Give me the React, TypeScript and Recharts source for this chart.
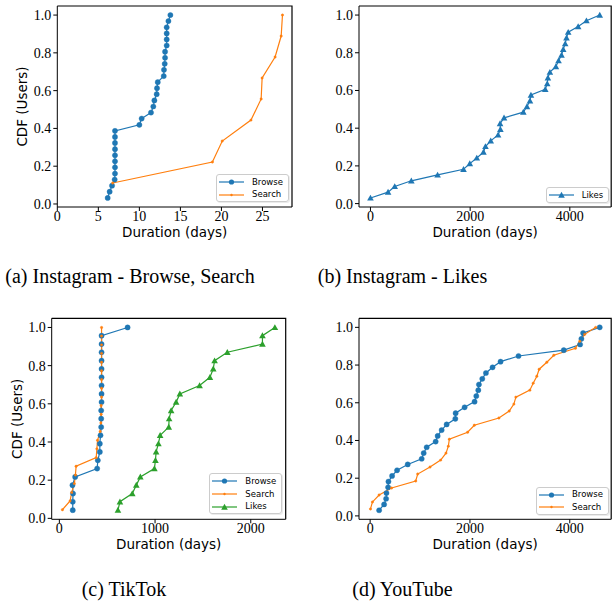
import { LineChart, Line, XAxis, YAxis } from "recharts"

const BLUE = "#1f77b4"
const ORANGE = "#ff7f0e"
const GREEN = "#2ca02c"

// (a) Instagram - Browse, Search  (days)
const igBrowseDays = [6.14, 6.38, 6.67, 6.99, 7.03, 7.03, 7.03, 7.03, 7.03, 7.03, 7.03, 7.03, 10.0, 10.28, 11.42, 11.7, 11.83, 12.11, 12.15, 12.24, 12.97, 13.0, 13.09, 13.13, 13.13, 13.33, 13.33, 13.33, 13.33, 13.54, 13.78]
const igBrowseCdf = [0.032, 0.065, 0.097, 0.129, 0.161, 0.194, 0.226, 0.258, 0.29, 0.323, 0.355, 0.387, 0.419, 0.452, 0.484, 0.516, 0.548, 0.581, 0.613, 0.645, 0.677, 0.71, 0.742, 0.774, 0.806, 0.839, 0.871, 0.903, 0.935, 0.968, 1.0]
const igSearchDays = [6.75, 18.9, 20.1, 23.6, 24.84, 24.96, 26.54, 27.28, 27.44]
const igSearchCdf = [0.111, 0.222, 0.333, 0.444, 0.556, 0.667, 0.778, 0.889, 1.0]

// (b) Instagram - Likes
const igLikesDays = [0, 353, 487, 820, 1347, 1867, 1993, 2133, 2267, 2307, 2413, 2560, 2607, 2600, 2680, 3067, 3140, 3200, 3220, 3507, 3547, 3560, 3600, 3720, 3773, 3833, 3867, 3907, 3933, 3967, 4167, 4333, 4600]
const igLikesCdf = [0.03, 0.061, 0.091, 0.121, 0.152, 0.182, 0.212, 0.242, 0.273, 0.303, 0.333, 0.364, 0.394, 0.424, 0.455, 0.485, 0.515, 0.545, 0.576, 0.606, 0.636, 0.667, 0.697, 0.727, 0.758, 0.788, 0.818, 0.848, 0.879, 0.909, 0.939, 0.97, 1.0]

// (c) TikTok
const ttBrowseDays = [140, 140, 143, 137, 165, 395, 402, 423, 423, 430, 437, 437, 437, 441, 441, 441, 441, 441, 441, 441, 441, 441, 713]
const ttBrowseCdf = [0.043, 0.087, 0.13, 0.174, 0.217, 0.261, 0.304, 0.348, 0.391, 0.435, 0.478, 0.522, 0.565, 0.609, 0.652, 0.696, 0.739, 0.783, 0.826, 0.87, 0.913, 0.957, 1.0]
const ttSearchDays = [32, 112, 129, 157, 168, 175, 385, 392, 399, 427, 434, 437, 437, 441, 441, 441, 441, 441, 441, 441, 441, 441]
const ttSearchCdf = [0.045, 0.091, 0.136, 0.182, 0.227, 0.273, 0.318, 0.364, 0.409, 0.455, 0.5, 0.545, 0.591, 0.636, 0.682, 0.727, 0.773, 0.818, 0.864, 0.909, 0.955, 1.0]
const ttLikesDays = [612, 633, 762, 804, 846, 993, 1004, 1011, 1035, 1053, 1143, 1147, 1168, 1220, 1259, 1465, 1573, 1608, 1622, 1755, 2122, 2122, 2252]
const ttLikesCdf = [0.043, 0.087, 0.13, 0.174, 0.217, 0.261, 0.304, 0.348, 0.391, 0.435, 0.478, 0.522, 0.565, 0.609, 0.652, 0.696, 0.739, 0.783, 0.826, 0.87, 0.913, 0.957, 1.0]

// (d) YouTube
const ytBrowseDays = [180, 280, 320, 327, 360, 367, 440, 540, 753, 1033, 1073, 1133, 1313, 1353, 1433, 1533, 1707, 1713, 1893, 2093, 2127, 2167, 2180, 2247, 2320, 2453, 2613, 2973, 3880, 4207, 4233, 4267, 4600]
const ytBrowseCdf = [0.03, 0.061, 0.091, 0.121, 0.152, 0.182, 0.212, 0.242, 0.273, 0.303, 0.333, 0.364, 0.394, 0.424, 0.455, 0.485, 0.515, 0.545, 0.576, 0.606, 0.636, 0.667, 0.697, 0.727, 0.758, 0.788, 0.818, 0.848, 0.879, 0.909, 0.939, 0.97, 1.0]
const ytSearchDays = [7, 47, 180, 430, 913, 953, 1200, 1413, 1520, 1567, 1587, 1953, 2087, 2580, 2787, 2880, 2920, 3200, 3267, 3340, 3387, 3540, 3680, 4113, 4200, 4300, 4520]
const ytSearchCdf = [0.037, 0.074, 0.111, 0.148, 0.185, 0.222, 0.259, 0.296, 0.333, 0.37, 0.407, 0.444, 0.481, 0.519, 0.556, 0.593, 0.63, 0.667, 0.704, 0.741, 0.778, 0.815, 0.852, 0.889, 0.926, 0.963, 1.0]

const yTicks = [0, 0.2, 0.4, 0.6, 0.8, 1.0]
const igTicks = [0, 5, 10, 15, 20, 25]
const ttTicks = [0, 1000, 2000]
const longTicks = [0, 2000, 4000]

type Marker = "circle" | "point" | "triangle"

interface Series {
  name: string
  days: number[]
  cdf: number[]
  color: string
  marker: Marker
}

const SERIF = "Liberation Serif, Times New Roman, serif"
const SANS = "DejaVu Sans, sans-serif"
const CHART_H = 245
const Y_AXIS_W = 40
const X_AXIS_H = 35

const toRows = (days: number[], cdf: number[]) => days.map((x, i) => ({ x, y: cdf[i] }))

function triangle(cx: number, cy: number, s: number) {
  return `${cx},${cy - s} ${cx - s},${cy + s * 0.8} ${cx + s},${cy + s * 0.8}`
}

function dotFor(marker: Marker, color: string): any {
  if (marker === "circle") return { r: 2.6, fill: color, stroke: color, strokeWidth: 0.4 }
  if (marker === "point") return { r: 1.2, fill: color, stroke: color, strokeWidth: 0.4 }
  return (p: any) => {
    if (p.cx == null || p.cy == null) return <g key={`t-${p.index}`} />
    return <polygon key={`t-${p.index}`} points={triangle(p.cx, p.cy, 3.3)} fill={color} />
  }
}

function MarkerIcon({ marker, color }: { marker: Marker; color: string }) {
  return (
    <svg width={25} height={10} style={{ display: "block" }}>
      <line x1={0} y1={5} x2={25} y2={5} stroke={color} strokeWidth={1.2} />
      {marker === "circle" && <circle cx={12.5} cy={5} r={2.6} fill={color} />}
      {marker === "point" && <circle cx={12.5} cy={5} r={1.2} fill={color} />}
      {marker === "triangle" && <polygon points={triangle(12.5, 5, 3.3)} fill={color} />}
    </svg>
  )
}

function LegendBox({ series, left, top }: { series: Series[]; left: number; top: number }) {
  return (
    <div
      style={{
        position: "absolute",
        left,
        top,
        zIndex: 3,
        border: "1px solid #cccccc",
        borderRadius: 3,
        background: "rgba(255,255,255,0.85)",
        padding: "0.5px 5px 0.5px 2px",
        boxShadow: "1px 1px 0 rgba(0,0,0,0.08)",
      }}
    >
      {series.map((s) => (
        <div key={s.name} style={{ display: "flex", alignItems: "center", height: 12.7 }}>
          <MarkerIcon marker={s.marker} color={s.color} />
          <span style={{ marginLeft: 8, fontFamily: SANS, fontSize: 8.5, color: "#000", lineHeight: 1 }}>{s.name}</span>
        </div>
      ))}
    </div>
  )
}

interface Geometry {
  left: number
  top: number
  width: number
  margin: { top: number; right: number; bottom: number; left: number }
}

interface PanelProps extends Geometry {
  xDomain: [number, number]
  xTicks: number[]
  yDomain: [number, number]
  series: Series[]
  yLabel?: boolean
}

function Panel({ left, top, width, margin, xDomain, xTicks, yDomain, series, yLabel }: PanelProps) {
  const tickStyle = { fontFamily: SERIF, fontSize: 14, fill: "#000" }
  return (
    <div style={{ position: "absolute", left, top, width, height: CHART_H, fontFamily: SERIF }}>
      <LineChart width={width} height={CHART_H} margin={margin}>
        <XAxis
          dataKey="x"
          type="number"
          domain={xDomain}
          ticks={xTicks}
          allowDataOverflow
          height={X_AXIS_H}
          tick={tickStyle}
          tickSize={4}
          tickMargin={0}
          stroke="#000"
          label={{ value: "Duration (days)", position: "center", dy: 7.5, style: { fontFamily: SANS, fontSize: 13.5, fill: "#000" } }}
        />
        <YAxis
          type="number"
          domain={yDomain}
          ticks={yTicks}
          allowDataOverflow
          width={Y_AXIS_W}
          tick={tickStyle}
          tickSize={4}
          tickMargin={2}
          tickFormatter={(v: number) => v.toFixed(1)}
          stroke="#000"
          label={
            yLabel
              ? { value: "CDF (Users)", angle: -90, position: "center", dx: -14.8, style: { fontFamily: SANS, fontSize: 13.5, fill: "#000" } }
              : undefined
          }
        />
        {series.map((s) => (
          <Line
            key={s.name}
            name={s.name}
            data={toRows(s.days, s.cdf)}
            dataKey="y"
            type="linear"
            stroke={s.color}
            strokeWidth={1.2}
            dot={dotFor(s.marker, s.color)}
            activeDot={false}
            isAnimationActive={false}
          />
        ))}
      </LineChart>
    </div>
  )
}

const geoA: Geometry = { left: 0, top: 0, width: 300, margin: { top: 6, right: 8, bottom: 3, left: 17.3 } }
const geoB: Geometry = { left: 300, top: 0, width: 313, margin: { top: 6, right: 1.8, bottom: 3, left: 19 } }
const geoC: Geometry = { left: 0, top: 312, width: 300, margin: { top: 6.3, right: 14.3, bottom: 2.7, left: 11.7 } }
const geoD: Geometry = { left: 300, top: 312, width: 313, margin: { top: 6.3, right: 1.8, bottom: 2.7, left: 19 } }

// matplotlib-style box around each plot area (top and right spines)
function Frames({ geos }: { geos: Geometry[] }) {
  return (
    <svg width={613} height={613} style={{ position: "absolute", left: 0, top: 0, zIndex: 2, pointerEvents: "none" }}>
      {geos.map((g, i) => {
        const x0 = g.left + g.margin.left + Y_AXIS_W
        const x1 = g.left + g.width - g.margin.right
        const y0 = g.top + g.margin.top
        const y1 = g.top + CHART_H - g.margin.bottom - X_AXIS_H
        return (
          <polyline
            key={i}
            points={`${x0},${y0} ${x1},${y0} ${x1},${y1}`}
            fill="none"
            stroke="#000000"
            strokeWidth={1.2}
          />
        )
      })}
    </svg>
  )
}

const igSeries: Series[] = [
  { name: "Browse", days: igBrowseDays, cdf: igBrowseCdf, color: BLUE, marker: "circle" },
  { name: "Search", days: igSearchDays, cdf: igSearchCdf, color: ORANGE, marker: "point" },
]
const igLikesSeries: Series[] = [{ name: "Likes", days: igLikesDays, cdf: igLikesCdf, color: BLUE, marker: "triangle" }]
const ttSeries: Series[] = [
  { name: "Browse", days: ttBrowseDays, cdf: ttBrowseCdf, color: BLUE, marker: "circle" },
  { name: "Search", days: ttSearchDays, cdf: ttSearchCdf, color: ORANGE, marker: "point" },
  { name: "Likes", days: ttLikesDays, cdf: ttLikesCdf, color: GREEN, marker: "triangle" },
]
const ytSeries: Series[] = [
  { name: "Browse", days: ytBrowseDays, cdf: ytBrowseCdf, color: BLUE, marker: "circle" },
  { name: "Search", days: ytSearchDays, cdf: ytSearchCdf, color: ORANGE, marker: "point" },
]

function Caption({ text, x, y }: { text: string; x: number; y: number }) {
  return (
    <div
      style={{
        position: "absolute",
        left: x - 150,
        top: y - 12,
        width: 300,
        height: 24,
        lineHeight: "24px",
        textAlign: "center",
        fontFamily: SERIF,
        fontSize: 20,
        color: "#000",
        whiteSpace: "nowrap",
      }}
    >
      {text}
    </div>
  )
}

export default function App() {
  return (
    <div style={{ position: "absolute", left: 0, top: 0, width: 613, height: 613, background: "#fff", overflow: "hidden" }}>
      <Panel {...geoA} xDomain={[0, 28.6]} xTicks={igTicks} yDomain={[-0.016, 1.048]} series={igSeries} yLabel />
      <Panel {...geoB} xDomain={[-230, 4830]} xTicks={longTicks} yDomain={[-0.018, 1.048]} series={igLikesSeries} />
      <Panel {...geoC} xDomain={[-80, 2365]} xTicks={ttTicks} yDomain={[-0.005, 1.048]} series={ttSeries} yLabel />
      <Panel {...geoD} xDomain={[-223, 4830]} xTicks={longTicks} yDomain={[-0.018, 1.048]} series={ytSeries} />

      <Frames geos={[geoA, geoB, geoC, geoD]} />

      <LegendBox series={igSeries} left={216} top={174} />
      <LegendBox series={igLikesSeries} left={545.7} top={187.3} />
      <LegendBox series={ttSeries} left={209.3} top={473.3} />
      <LegendBox series={ytSeries} left={536} top={486.7} />

      <Caption text="(a) Instagram - Browse, Search" x={130} y={276} />
      <Caption text="(b) Instagram - Likes" x={402.5} y={276} />
      <Caption text="(c) TikTok" x={124} y={589} />
      <Caption text="(d) YouTube" x={402.5} y={589} />
    </div>
  )
}
